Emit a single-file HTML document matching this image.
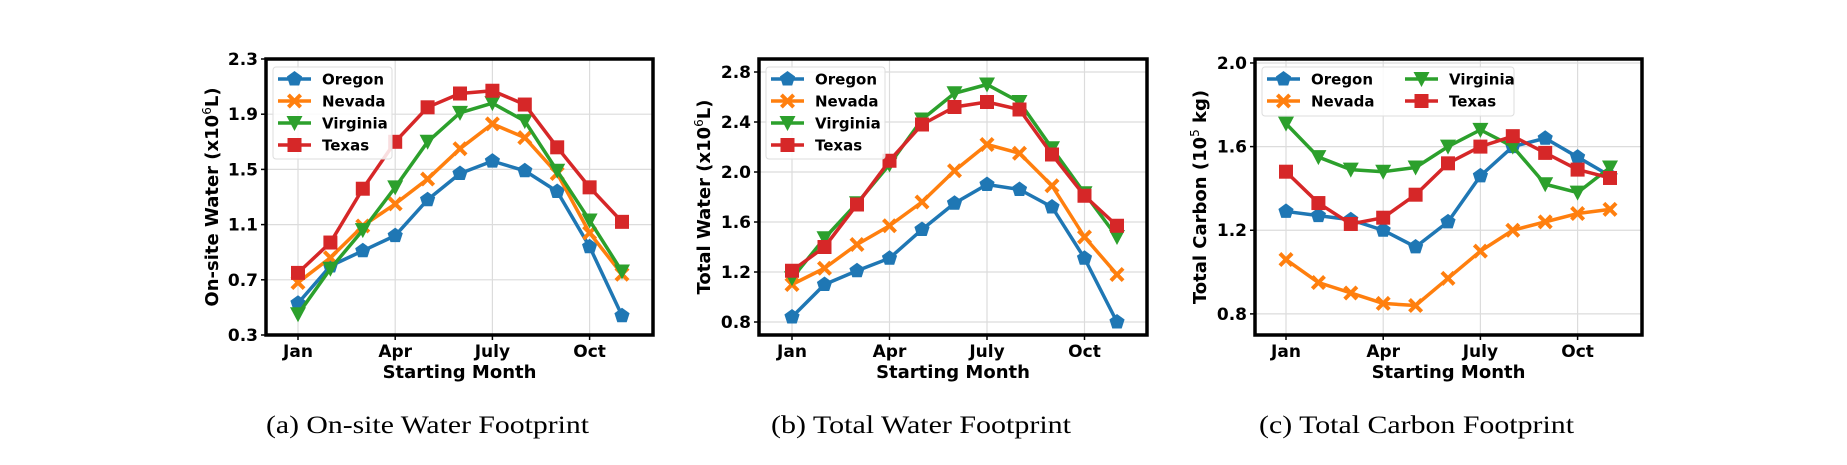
<!DOCTYPE html>
<html><head><meta charset="utf-8"><style>
body{margin:0;background:#fff;}
svg{display:block;}
.t{font-family:"DejaVu Sans","Liberation Sans",sans-serif;font-weight:bold;}
.cap{font-family:"Liberation Serif",serif;font-size:25px;}
</style></head><body>
<svg id="fig" width="1847" height="465" viewBox="0 0 1847 465" xmlns="http://www.w3.org/2000/svg"></svg>
<script>
const months = ["Jan","Feb","Mar","Apr","May","Jun","July","Aug","Sep","Oct","Nov"];
const tickMonths = ["Jan","Apr","July","Oct"];
const seriesNames = ["Oregon","Nevada","Virginia","Texas"];
const onsiteOregon = [0.53,0.80,0.91,1.02,1.28,1.47,1.56,1.49,1.34,0.94,0.44];
const onsiteNevada = [0.68,0.86,1.09,1.25,1.43,1.65,1.83,1.73,1.47,1.04,0.74];
const onsiteVirginia = [0.45,0.78,1.06,1.37,1.70,1.91,1.98,1.85,1.49,1.13,0.76];
const onsiteTexas = [0.75,0.97,1.36,1.70,1.95,2.05,2.07,1.97,1.66,1.37,1.12];
const totalOregon = [0.84,1.10,1.21,1.31,1.54,1.75,1.90,1.86,1.72,1.31,0.80];
const totalNevada = [1.10,1.23,1.42,1.57,1.76,2.01,2.22,2.15,1.89,1.48,1.18];
const totalVirginia = [1.15,1.47,1.75,2.06,2.42,2.63,2.70,2.56,2.19,1.83,1.48];
const totalTexas = [1.21,1.40,1.74,2.09,2.38,2.52,2.56,2.50,2.14,1.81,1.57];
const carbonOregon = [1.29,1.27,1.25,1.20,1.12,1.24,1.46,1.60,1.64,1.55,1.46];
const carbonNevada = [1.06,0.95,0.90,0.85,0.84,0.97,1.10,1.20,1.24,1.28,1.30];
const carbonVirginia = [1.71,1.55,1.49,1.48,1.50,1.60,1.68,1.60,1.42,1.38,1.50];
const carbonTexas = [1.48,1.33,1.23,1.26,1.37,1.52,1.60,1.65,1.57,1.49,1.45];
const onsiteTicks = [0.3,0.7,1.1,1.5,1.9,2.3];
const totalTicks = [0.8,1.2,1.6,2.0,2.4,2.8];
const carbonTicks = [0.8,1.2,1.6,2.0];

const colors=["#1f77b4","#ff7f0e","#2ca02c","#d62728"];
const NS="http://www.w3.org/2000/svg";
const svg=document.getElementById('fig');
function mk(tag,attrs,parent){const e=document.createElementNS(NS,tag);for(const k in attrs)e.setAttribute(k,attrs[k]);(parent||svg).appendChild(e);return e;}
function marker(kind,x,y,c,g){
  let e;
  if(kind===0){const r=8;let p=[];for(let i=0;i<5;i++){const a=-Math.PI/2+i*2*Math.PI/5;p.push((x+r*Math.cos(a)).toFixed(1)+","+(y+r*Math.sin(a)).toFixed(1));}
    e=mk('polygon',{points:p.join(' '),fill:c},g);}
  else if(kind===1){const s=7.5,w=2.8;const pts=[[-s,-s+w],[-s+w,-s],[0,-w],[s-w,-s],[s,-s+w],[w,0],[s,s-w],[s-w,s],[0,w],[-s+w,s],[-s,s-w],[-w,0]];
    e=mk('polygon',{points:pts.map(p=>(x+p[0])+","+(y+p[1])).join(' '),fill:c},g);}
  else if(kind===2){e=mk('polygon',{points:`${x-8},${y-7} ${x+8},${y-7} ${x},${y+8}`,fill:c},g);}
  else {e=mk('rect',{x:x-7,y:y-7,width:14,height:14,fill:c},g);}
  return e;
}
function chart(o){
  const g=mk('g',{});
  
  
  const xs=i=>o.x0+i*o.dx;
  const ys=v=>o.top+(o.ymax-v)/(o.ymax-o.ymin)*(o.bottom-o.top);
  tickMonths.forEach(m=>{const x=xs(months.indexOf(m));mk('line',{x1:x,x2:x,y1:o.top,y2:o.bottom,stroke:'#dcdcdc','stroke-width':1.2},g);});
  o.ticks.forEach(v=>{const y=ys(v);mk('line',{x1:o.left,x2:o.right,y1:y,y2:y,stroke:'#dcdcdc','stroke-width':1.2},g);});
  o.data.forEach((d,si)=>{
    const s=mk('g',{},g);
    
    
    mk('polyline',{points:d.map((v,i)=>xs(i)+","+ys(v)).join(' '),fill:'none',stroke:colors[si],'stroke-width':3.5,'stroke-linejoin':'round'},s);
    d.forEach((v,i)=>{const m=marker(si,xs(i),ys(v),colors[si],s);
      
      });
  });
  mk('rect',{x:o.left,y:o.top,width:o.right-o.left,height:o.bottom-o.top,fill:'none',stroke:'#000','stroke-width':3.5},g);
  o.ticks.forEach(v=>{const y=ys(v);mk('line',{x1:o.left-5,x2:o.left,y1:y,y2:y,stroke:'#000','stroke-width':1.5},g);
    const t=mk('text',{x:o.left-8,y:y+6,'text-anchor':'end','font-size':17,class:'t'},g);t.textContent=v.toFixed(1);
    });
  tickMonths.forEach(m=>{const x=xs(months.indexOf(m));mk('line',{x1:x,x2:x,y1:o.bottom,y2:o.bottom+5,stroke:'#000','stroke-width':1.5},g);
    const t=mk('text',{x:x,y:o.bottom+22,'text-anchor':'middle','font-size':17,class:'t'},g);t.textContent=m;
    });
  const xl=mk('text',{x:(o.left+o.right)/2,y:o.bottom+43,'text-anchor':'middle','font-size':18,class:'t'},g);xl.textContent="Starting Month";
  
  const yc=(o.top+o.bottom)/2;
  const yl=mk('text',{x:o.ylx,y:yc,'text-anchor':'middle','font-size':18,class:'t',transform:`rotate(-90 ${o.ylx} ${yc})`},g);
  yl.innerHTML=o.ylabel;
  
  const lg=mk('g',{},g);
  
  mk('rect',{x:o.left+7,y:o.top+8,width:o.legW,height:o.legH,rx:3,fill:'#fff','fill-opacity':0.85,stroke:'#ddd'},lg);
  seriesNames.forEach((n,i)=>{
    const col=o.legCols===2?Math.floor(i/2):0,row=o.legCols===2?i%2:i;
    const lx=o.left+12+col*138,ly=o.top+20+row*22;
    const e=mk('g',{},lg);
    
    
    mk('line',{x1:lx,x2:lx+33,y1:ly,y2:ly,stroke:colors[i],'stroke-width':3.5},e);
    marker(i,lx+16.5,ly,colors[i],e);
    const t=mk('text',{x:lx+44,y:ly+5.5,'font-size':15,class:'t'},e);t.textContent=n;
  });
  const c=mk('text',{x:(o.left+o.right)/2-32,y:433,'text-anchor':'middle',class:'cap',textLength:o.capW,lengthAdjust:'spacingAndGlyphs'},g);c.textContent=o.caption;
  
}
chart({name:'onsite-water-chart',left:266,right:653,top:59,bottom:335,x0:298,dx:32.4,ymin:0.3,ymax:2.3,ticks:onsiteTicks,
  data:[onsiteOregon,onsiteNevada,onsiteVirginia,onsiteTexas],ylx:218,ylabel:'On-site Water (x10<tspan font-weight="normal" font-size="12" dy="-7">6</tspan><tspan dy="7">L)</tspan>',
  legW:119,legH:92,legCols:1,caption:'(a)  On-site Water Footprint',capW:323});
chart({name:'total-water-chart',left:759,right:1147,top:59,bottom:335,x0:792,dx:32.5,ymin:0.696,ymax:2.904,ticks:totalTicks,
  data:[totalOregon,totalNevada,totalVirginia,totalTexas],ylx:710,ylabel:'Total Water (x10<tspan font-weight="normal" font-size="12" dy="-7">6</tspan><tspan dy="7">L)</tspan>',
  legW:119,legH:92,legCols:1,caption:'(b)  Total Water Footprint',capW:300});
chart({name:'total-carbon-chart',left:1255,right:1642,top:59,bottom:335,x0:1286,dx:32.4,ymin:0.699,ymax:2.019,ticks:carbonTicks,
  data:[carbonOregon,carbonNevada,carbonVirginia,carbonTexas],ylx:1206,ylabel:'Total Carbon (10<tspan font-weight="normal" font-size="12" dy="-7">5</tspan><tspan dy="7"> kg)</tspan>',
  legW:252,legH:49,legCols:2,caption:'(c)  Total Carbon Footprint',capW:315});
</script>
</body></html>
